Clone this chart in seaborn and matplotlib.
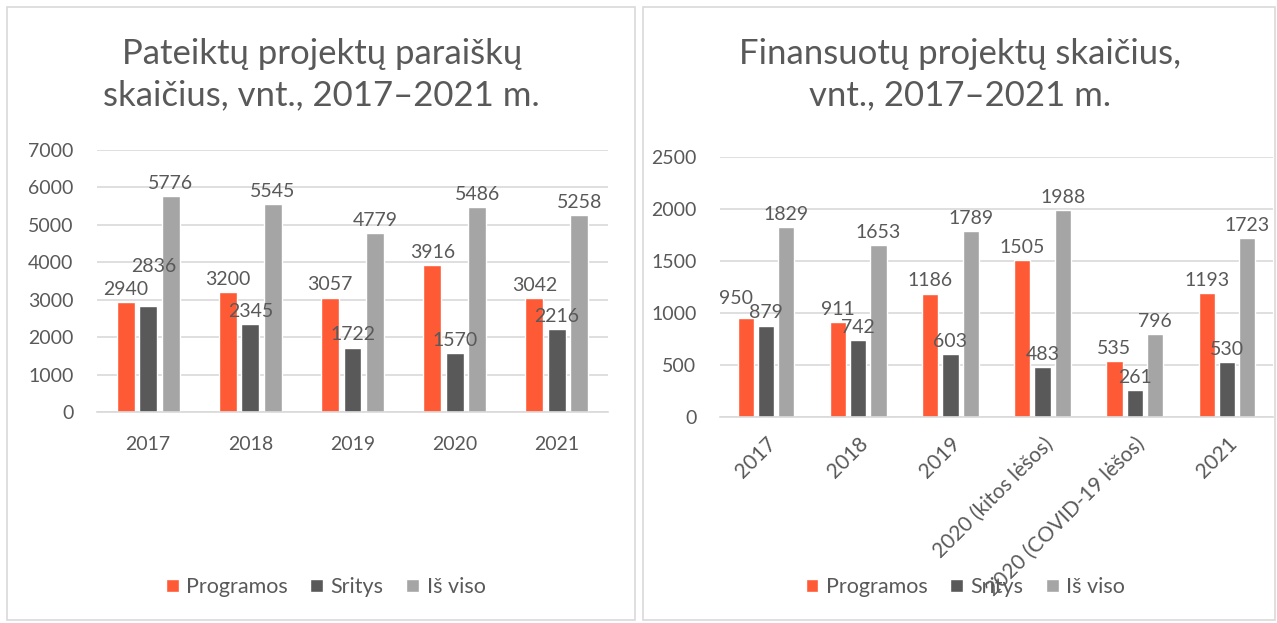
import pandas as pd
import matplotlib
matplotlib.use('Agg')
import matplotlib.pyplot as plt
import seaborn as sns
from matplotlib.patches import Patch, Rectangle

# duomenys
serijos = ['Programos', 'Sritys', 'Iš viso']
spalvos = ['#FF5A36', '#595959', '#A5A5A5']

metai_kaire = ['2017', '2018', '2019', '2020', '2021']
programos_kaire = [2940, 3200, 3057, 3916, 3042]
sritys_kaire = [2836, 2345, 1722, 1570, 2216]
is_viso_kaire = [5776, 5545, 4779, 5486, 5258]

metai_desine = ['2017', '2018', '2019', '2020 (kitos lėšos)', '2020 (COVID-19 lėšos)', '2021']
programos_desine = [950, 911, 1186, 1505, 535, 1193]
sritys_desine = [879, 742, 603, 483, 261, 530]
is_viso_desine = [1829, 1653, 1789, 1988, 796, 1723]


def ilgas(metai, prog, srit, viso):
    rows = []
    for s, vals in zip(serijos, [prog, srit, viso]):
        for m, v in zip(metai, vals):
            rows.append({'metai': m, 'serija': s, 'kiekis': v})
    return pd.DataFrame(rows)


df_k = ilgas(metai_kaire, programos_kaire, sritys_kaire, is_viso_kaire)
df_d = ilgas(metai_desine, programos_desine, sritys_desine, is_viso_desine)

sns.set_style('white')
plt.rcParams['font.family'] = ['Lato', 'DejaVu Sans']
tekstas = '#595959'
tinklelis = '#D9D9D9'

# etikečių patraukimas (kaip Excel'yje, kad nesidengtų), taškais
patraukimai = {(0, 1, 0): (4, 22), (1, 0, 0): (-7, 8)}

fig = plt.figure(figsize=(12.77, 6.23), dpi=100)

# rėmeliai aplink abi diagramas
fig.patches.append(Rectangle((7 / 1277, 3 / 623), 628 / 1277, 613 / 623, transform=fig.transFigure,
                             fill=False, edgecolor=tinklelis, linewidth=1.2))
fig.patches.append(Rectangle((643 / 1277, 3 / 623), 632 / 1277, 613 / 623, transform=fig.transFigure,
                             fill=False, edgecolor=tinklelis, linewidth=1.2))

ax1 = fig.add_axes([97 / 1277, 1 - 412 / 623, 511 / 1277, 262 / 623])
ax2 = fig.add_axes([720 / 1277, 1 - 417 / 623, 553 / 1277, 260 / 623])

for i, (ax, df, ymax, step) in enumerate([(ax1, df_k, 7000, 1000), (ax2, df_d, 2500, 500)]):
    sns.barplot(data=df, x='metai', y='kiekis', hue='serija', palette=spalvos,
                width=0.66, gap=0.2, ax=ax, legend=False, saturation=1)
    ax.set_ylim(0, ymax)
    ax.set_yticks(range(0, ymax + 1, step))
    ax.yaxis.grid(True, color=tinklelis, linewidth=1.2)
    ax.set_axisbelow(True)
    for sp in ['top', 'right', 'left']:
        ax.spines[sp].set_visible(False)
    ax.spines['bottom'].set_color(tinklelis)
    ax.spines['bottom'].set_linewidth(1.2)
    ax.set_xlabel('')
    ax.set_ylabel('')
    ax.tick_params(axis='y', length=0, labelsize=14, colors=tekstas, pad=17)
    ax.tick_params(axis='x', length=0, labelsize=14, colors=tekstas, pad=17)
    for j, cont in enumerate(ax.containers):
        anns = ax.bar_label(cont, fmt='%d', padding=3, fontsize=14, color=tekstas)
        for k, a in enumerate(anns):
            if (i, j, k) in patraukimai:
                a.xyann = patraukimai[(i, j, k)]

ax2.tick_params(axis='x', labelsize=15, pad=12)
for lbl in ax2.get_xticklabels():
    lbl.set_rotation(45)
    lbl.set_ha('right')
    lbl.set_rotation_mode('anchor')

fig.text(0.252, 0.88, 'Pateiktų projektų paraiškų\nskaičius, vnt., 2017–2021 m.',
         ha='center', va='center', fontsize=25, color=tekstas, linespacing=1.35)
fig.text(0.752, 0.88, 'Finansuotų projektų skaičius,\nvnt., 2017–2021 m.',
         ha='center', va='center', fontsize=25, color=tekstas, linespacing=1.35)

handles = [Patch(facecolor=c) for c in spalvos]
for cx in [0.2549, 0.756]:
    fig.legend(handles, serijos, loc='center', bbox_to_anchor=(cx, 1 - 587 / 623), ncol=3,
               frameon=False, fontsize=15.5, labelcolor=tekstas, handlelength=0.6,
               handleheight=0.6, handletextpad=0.33, columnspacing=1.07)

fig.savefig('out.png', dpi=100)
